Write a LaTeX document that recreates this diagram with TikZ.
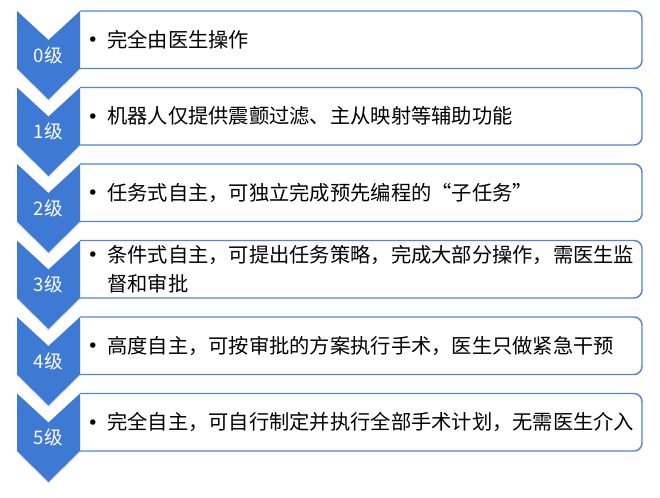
\documentclass[tikz,border=0pt]{standalone}
\usepackage{fontspec}
\setmainfont{Noto Sans CJK SC}
\newfontfamily\dotfont{DejaVu Sans}
\usetikzlibrary{
  shadows
}
\definecolor{chevblue}{RGB}{62,121,212}
\definecolor{boxblue}{RGB}{84,133,214}
\tikzset{
  chevron/.style={
    fill=chevblue,
    drop shadow={opacity=0.18, shadow xshift=0pt, shadow yshift=-1.5pt}
  },
  levelbox/.style={
    draw=boxblue,
    line width=1.1pt,
    fill=white,
    rounded corners=6pt
  }
}

\begin{document}
\begin{tikzpicture}[
    x=0.75pt, y=-0.75pt,
    level label/.style={text=white, font=\fontsize{14}{16}\selectfont, inner sep=0pt},
    item text/.style={anchor=west, align=left, inner sep=0pt, font=\fontsize{15.2}{21.75}\selectfont},
    item bullet/.style={inner sep=0pt, font=\dotfont\fontsize{14}{16}\selectfont}
    ]
  \useasboundingbox (0,0) rectangle (660,497);
  \foreach \i/\off/\txt in {
      0/0/{完全由医生操作},
      1/0/{机器人仅提供震颤过滤、主从映射等辅助功能},
      2/0/{任务式自主，可独立完成预先编程的“子任务”},
      3/14.5/{条件式自主，可提出任务策略，完成大部分操作，需医生监\\督和审批},
      4/0/{高度自主，可按审批的方案执行手术，医生只做紧急干预},
      5/0/{完全自主，可自行制定并执行全部手术计划，无需医生介入}} {
    \pgfmathsetmacro\t{11+76.5*\i}
    \pgfmathsetmacro\b{\t+57.5}
    \pgfmathsetmacro\m{\t+28.75}
    % box, open on the chevron side
    \draw[levelbox] (80,\b) -- (642,\b) -- (642,\t) -- (80,\t);
    % chevron
    \path[chevron] (17,\t) -- (48.5,\t+29) -- (80,\t) -- (80,\b) -- (48.5,\b+31) -- (17,\b) -- cycle;
    \node[level label] (lvl\i) at (48.5,\t+44) {\i 级};
    \node[item text] (txt\i) at (107,\m) {\txt};
    \node[item bullet] (dot\i) at (93,\m-\off+2) {•};
  }
\end{tikzpicture}
\end{document}
